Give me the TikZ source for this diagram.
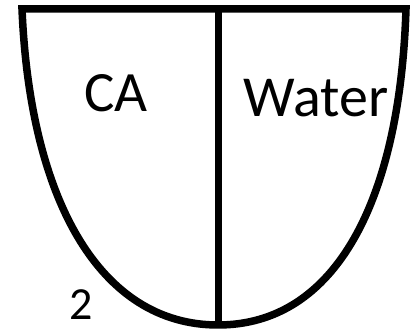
\documentclass[tikz,border=0pt]{standalone}
\usepackage{fontspec}
\setmainfont{Carlito}
\begin{document}
\begin{tikzpicture}[x=1pt,y=-1pt,
  outline/.style={line width=7.5pt,line join=miter},
  lbl/.style={inner sep=0pt,anchor=base}]
\useasboundingbox (0,0) rectangle (413,331);
\coordinate (tl) at (22,9);
\coordinate (tr) at (406,9);
\coordinate (tm) at (218,9);
\coordinate (bot) at (218,325);
\draw[outline] (tr) -- (tl) .. controls (30,200) and (100,325) .. (bot)
  .. controls (336,325) and (400,200) .. cycle;
\draw[line width=7pt] (tm) -- (bot);
\node[lbl,font=\fontsize{57}{60}\selectfont] (ca) at (116,112) {CA};
\node[lbl,font=\fontsize{58}{60}\selectfont] (water) at (316,117) {Water};
\node[lbl,font=\fontsize{46}{48}\selectfont] (two) at (81,320) {2};
\end{tikzpicture}
\end{document}
